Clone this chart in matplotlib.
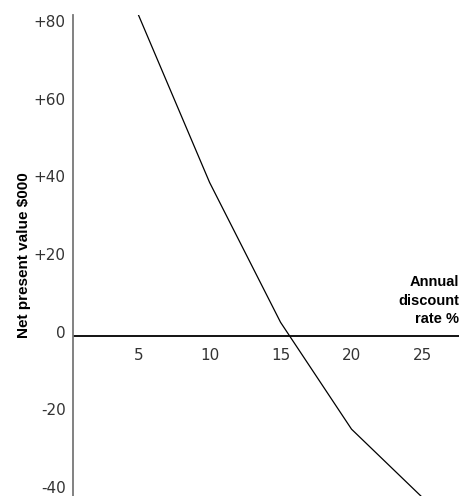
import matplotlib
matplotlib.use("Agg")
import matplotlib.pyplot as plt

rate = [5, 10, 15, 20, 25]
npv = [82.5, 39.5, 3.5, -24, -41.6]
x_ticks = [5, 10, 15, 20, 25]
y_ticks = [-40, -20, 0, 20, 40, 60, 80]
y_tick_labels = ["-40", "-20", "0", "+20", "+40", "+60", "+80"]

plt.rcParams['font.family'] = ['Liberation Sans', 'DejaVu Sans']

fig = plt.figure(figsize=(4.74, 4.96), dpi=100)
ax = fig.add_axes([0.155, 0.0, 0.813, 0.9698])
ax.set_xlim(0.41, 27.56)
ax.set_ylim(-41.2, 82.6)

ax.plot(rate, npv, color='black', lw=0.9, clip_on=True)
ax.axhline(0, color='black', lw=1.3)

for s in ax.spines.values():
    s.set_visible(False)
ax.spines['left'].set_visible(True)
ax.spines['left'].set_color('#777777')
ax.spines['left'].set_linewidth(1.3)

ax.set_xticks([])
ax.set_yticks(y_ticks)
ax.set_yticklabels([])
ax.tick_params(axis='y', length=0)

for yv, lbl in zip(y_ticks, y_tick_labels):
    ax.annotate(lbl, xy=(0, yv), xycoords=ax.get_yaxis_transform(),
                xytext=(-5.5, 2), textcoords='offset points',
                ha='right', va='center', fontsize=11, color='#333333',
                family='DejaVu Sans')

for xv in x_ticks:
    ax.annotate(str(xv), xy=(xv, 0), xytext=(0, -14), textcoords='offset points',
                ha='center', va='center', fontsize=11, color='#333333',
                family='DejaVu Sans')

ax.annotate("Annual\ndiscount\nrate %", xy=(1.0, 0), xycoords=ax.get_yaxis_transform(),
            xytext=(0, 7), textcoords='offset points',
            ha='right', va='bottom', fontsize=10.5, fontweight='bold',
            linespacing=1.4)

fig.text(24/474, 1 - 255/496, "Net present value $000", rotation=90,
         ha='center', va='center', fontsize=11, fontweight='bold')

fig.savefig("out.png", dpi=100)
